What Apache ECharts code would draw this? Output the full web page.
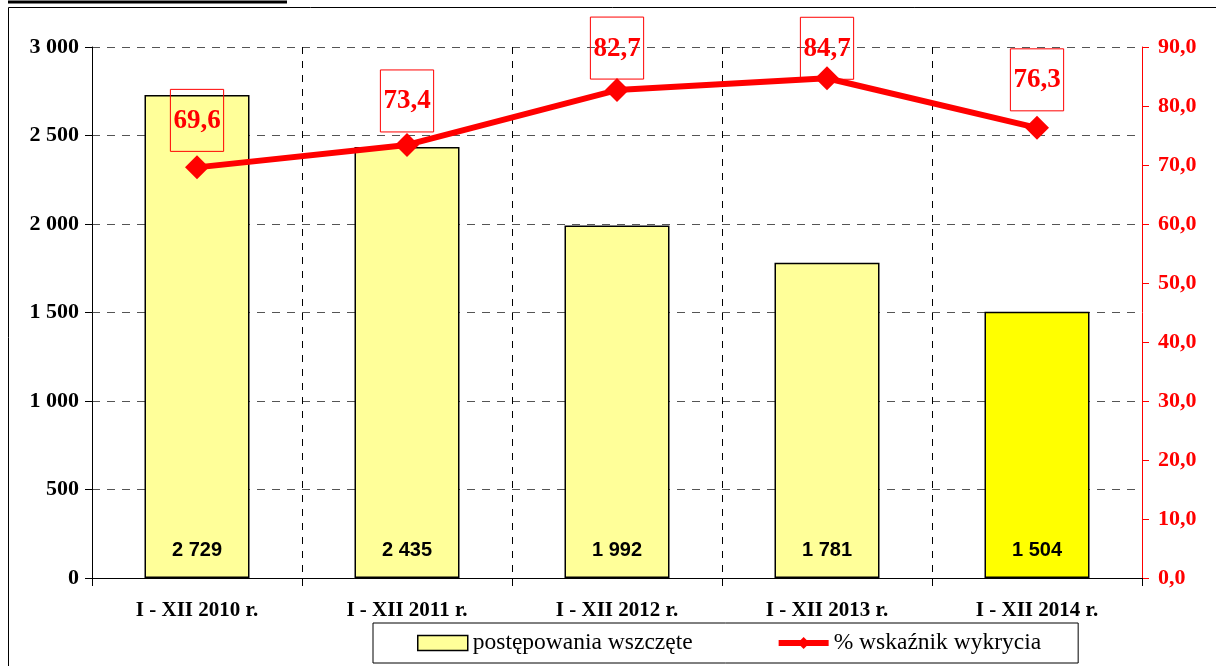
<!DOCTYPE html>
<html>
<head>
<meta charset="utf-8">
<script src="https://cdn.jsdelivr.net/npm/echarts@6/dist/echarts.min.js"></script>
<style>
    html, body {margin: 0; padding: 0; background: #fff;}
    #main {width: 1216px; height: 666px;}
</style>
</head>
<body>
<div id="main"></div>
<script>
    // dane z wykresu
    const categories = ['I - XII 2010 r.', 'I - XII 2011 r.', 'I - XII 2012 r.', 'I - XII 2013 r.', 'I - XII 2014 r.'];
    const cases = [2729, 2435, 1992, 1781, 1504];
    const detection = [69.6, 73.4, 82.7, 84.7, 76.3];
    const barColors = ['#ffff99', '#ffff99', '#ffff99', '#ffff99', '#ffff00'];
    // odstęp etykiety od punktu (jak w oryginale)
    const labelGap = [4, 1, -1, -13, 5];

    const serif = '"Liberation Serif", "Times New Roman", serif';

    function spaced(v) {
        return String(v).replace(/\B(?=(\d{3})+(?!\d))/g, ' ');
    }
    function comma(v) {
        return Number(v).toFixed(1).replace('.', ',');
    }

    let myChart = echarts.init(document.getElementById('main'));
    myChart.setOption({
        animation: false,
        backgroundColor: '#fff',
        grid: {left: 92, right: 74, top: 47, bottom: 88},
        legend: {
            left: 373,
            top: 623,
            width: 900,
            padding: [8, 37, 8, 44],
            itemGap: 83,
            itemWidth: 50,
            itemHeight: 15,
            backgroundColor: '#fff',
            borderColor: '#000',
            borderWidth: 1,
            borderRadius: 0,
            z: 10,
            textStyle: {fontFamily: serif, fontSize: 23.5, color: '#000'},
            data: [
                {name: 'postępowania wszczęte', icon: 'rect', itemStyle: {color: '#ffff99', borderColor: '#000', borderWidth: 1.5}},
                {name: '% wskaźnik wykrycia', lineStyle: {width: 6, color: '#ff0000'}}
            ]
        },
        xAxis: {
            type: 'category',
            data: categories,
            axisLine: {lineStyle: {color: '#000', width: 1}},
            axisTick: {show: true, length: 8, lineStyle: {color: '#000'}},
            axisLabel: {
                margin: 22,
                fontFamily: serif, fontSize: 21, fontWeight: 'bold', color: '#000'
            },
            splitLine: {show: true, lineStyle: {color: '#000', type: [7, 7], width: 1}}
        },
        yAxis: [
            {
                type: 'value',
                min: 0, max: 3000, interval: 500,
                axisLine: {show: true, lineStyle: {color: '#000'}},
                axisTick: {show: true, length: 7, lineStyle: {color: '#000'}},
                axisLabel: {
                    margin: 13,
                    fontFamily: serif, fontSize: 22, fontWeight: 'bold', color: '#000',
                    formatter: v => spaced(v)
                },
                splitLine: {show: true, lineStyle: {color: '#555', type: [8, 7], width: 1}}
            },
            {
                type: 'value',
                min: 0, max: 90, interval: 10,
                position: 'right',
                axisLine: {show: true, lineStyle: {color: '#ff0000'}},
                axisTick: {show: true, length: 7, lineStyle: {color: '#ff0000'}},
                axisLabel: {
                    margin: 16,
                    fontFamily: serif, fontSize: 22, fontWeight: 'bold', color: '#ff0000',
                    formatter: v => comma(v)
                },
                splitLine: {show: false}
            }
        ],
        series: [
            {
                name: 'postępowania wszczęte',
                type: 'bar',
                barWidth: '50%',
                data: cases.map((v, i) => ({
                    value: v,
                    itemStyle: {color: barColors[i], borderColor: '#000', borderWidth: 1.5}
                })),
                label: {
                    show: true,
                    position: 'insideBottom',
                    distance: 18,
                    fontFamily: '"Liberation Sans", Arial, sans-serif',
                    fontSize: 20, fontWeight: 'bold', color: '#000',
                    formatter: p => spaced(p.value)
                }
            },
            {
                name: '% wskaźnik wykrycia',
                type: 'line',
                yAxisIndex: 1,
                data: detection.map((v, i) => ({
                    value: v,
                    label: {distance: labelGap[i]}
                })),
                symbol: 'diamond',
                symbolSize: 24,
                color: '#ff0000',
                lineStyle: {color: '#ff0000', width: 6},
                itemStyle: {color: '#ff0000'},
                z: 5,
                label: {
                    show: true,
                    position: 'top',
                    fontFamily: serif, fontSize: 27, fontWeight: 'bold', color: '#ff0000',
                    lineHeight: 27,
                    borderColor: '#ff0000',
                    borderWidth: 1,
                    padding: [18, 3, 17, 3],
                    formatter: p => comma(p.value)
                }
            }
        ],
        graphic: [
            {
                type: 'rect',
                shape: {x: 8.5, y: 7.5, width: 1300, height: 700},
                style: {fill: null, stroke: '#000', lineWidth: 1},
                silent: true
            },
            {
                type: 'line',
                shape: {x1: 8, y1: 2, x2: 287, y2: 2},
                style: {stroke: '#000', lineWidth: 3},
                silent: true
            }
        ]
    });
</script>
</body>
</html>
